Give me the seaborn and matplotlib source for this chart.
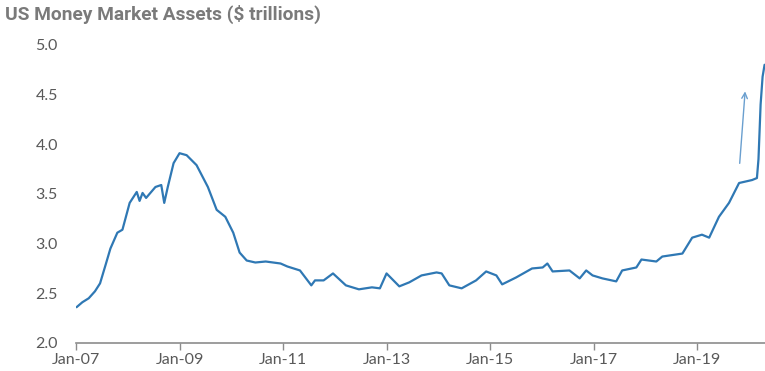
import pandas as pd
import seaborn as sns
import matplotlib.pyplot as plt

# values
dates = ['2007-01-05', '2007-02-15', '2007-04-01', '2007-05-15', '2007-06-20', '2007-08-01',
         '2007-09-01', '2007-10-20', '2007-11-25', '2008-01-15', '2008-03-05', '2008-03-25',
         '2008-04-15', '2008-05-10', '2008-07-15', '2008-08-25', '2008-09-15', '2008-10-10',
         '2008-11-20', '2009-01-01', '2009-02-20', '2009-05-01', '2009-07-20', '2009-09-20',
         '2009-11-20', '2010-01-15', '2010-03-01', '2010-04-20', '2010-06-20', '2010-09-01',
         '2010-12-15', '2011-02-01', '2011-05-01', '2011-07-20', '2011-08-15', '2011-10-15',
         '2011-12-20', '2012-03-20', '2012-06-20', '2012-09-20', '2012-11-15', '2013-01-01',
         '2013-04-01', '2013-06-10', '2013-09-05', '2013-12-20', '2014-01-25', '2014-03-20',
         '2014-06-15', '2014-09-25', '2014-12-05', '2015-02-15', '2015-03-28', '2015-07-05',
         '2015-10-25', '2016-01-08', '2016-02-10', '2016-03-18', '2016-07-15', '2016-09-25',
         '2016-11-10', '2016-12-25', '2017-03-05', '2017-06-10', '2017-07-22', '2017-10-30',
         '2017-12-05', '2018-03-20', '2018-05-01', '2018-09-20', '2018-11-28', '2019-02-05',
         '2019-03-28', '2019-06-05', '2019-08-15', '2019-10-25', '2020-01-25', '2020-02-28',
         '2020-03-10', '2020-03-25', '2020-04-08', '2020-04-22']
assets = [2.36, 2.41, 2.45, 2.52, 2.60, 2.80,
          2.95, 3.11, 3.14, 3.41, 3.52, 3.43,
          3.51, 3.46, 3.57, 3.59, 3.41, 3.57,
          3.81, 3.91, 3.89, 3.79, 3.57, 3.34,
          3.27, 3.11, 2.91, 2.83, 2.81, 2.82,
          2.80, 2.77, 2.73, 2.58, 2.63, 2.63,
          2.70, 2.58, 2.54, 2.56, 2.55, 2.70,
          2.57, 2.61, 2.68, 2.71, 2.70, 2.58,
          2.55, 2.63, 2.72, 2.68, 2.59, 2.66,
          2.75, 2.76, 2.80, 2.72, 2.73, 2.65,
          2.73, 2.68, 2.65, 2.62, 2.73, 2.76,
          2.84, 2.82, 2.87, 2.90, 3.06, 3.09,
          3.06, 3.27, 3.41, 3.61, 3.64, 3.66,
          3.85, 4.40, 4.68, 4.80]

year_ticks = ['2007-01-01', '2009-01-01', '2011-01-01', '2013-01-01',
              '2015-01-01', '2017-01-01', '2019-01-01']
year_labels = ['Jan-07', 'Jan-09', 'Jan-11', 'Jan-13', 'Jan-15', 'Jan-17', 'Jan-19']
y_ticks = [2.0, 2.5, 3.0, 3.5, 4.0, 4.5, 5.0]

df = pd.DataFrame({'date': pd.to_datetime(dates), 'assets': assets})

sns.set_style('white')
plt.rcParams['font.family'] = ['Lato', 'DejaVu Sans']

fig = plt.figure(figsize=(7.65, 3.71), dpi=100)
ax = fig.add_axes([0.0993, 0.0755, 0.9007, 0.8035])

sns.lineplot(data=df, x='date', y='assets', color='#2f78b4', linewidth=1.6, ax=ax)

# arrow showing the jump
ax.annotate('', xy=(pd.Timestamp('2019-12-08'), 4.56), xytext=(pd.Timestamp('2019-10-28'), 3.78),
            arrowprops=dict(arrowstyle='->', color='#6a9fcf', lw=1.0))

ax.set_xlim(pd.Timestamp('2007-01-01'), pd.Timestamp('2020-04-25'))
ax.set_ylim(2.0, 5.0)
ax.set_xticks(pd.to_datetime(year_ticks))
ax.set_xticklabels(year_labels)
ax.set_yticks(y_ticks)
ax.set_yticklabels([f'{v:.1f}' for v in y_ticks])
ax.set_xlabel('')
ax.set_ylabel('')

for s in ['top', 'right', 'left']:
    ax.spines[s].set_visible(False)
ax.spines['bottom'].set_color('#8c8c8c')
ax.spines['bottom'].set_linewidth(1.2)
ax.tick_params(axis='x', direction='out', length=5, width=1.0, color='#8c8c8c',
               labelsize=11.5, labelcolor='#595959', pad=2, bottom=True)
ax.tick_params(axis='y', length=0, labelsize=11.5, labelcolor='#595959', pad=13)

fig.text(0.007, 0.96, 'US Money Market Assets ($ trillions)', fontsize=13.8,
         fontweight='bold', family=['Roboto', 'DejaVu Sans'], color='#7a7a7a',
         ha='left', va='center')

fig.savefig('out.png', dpi=100)
